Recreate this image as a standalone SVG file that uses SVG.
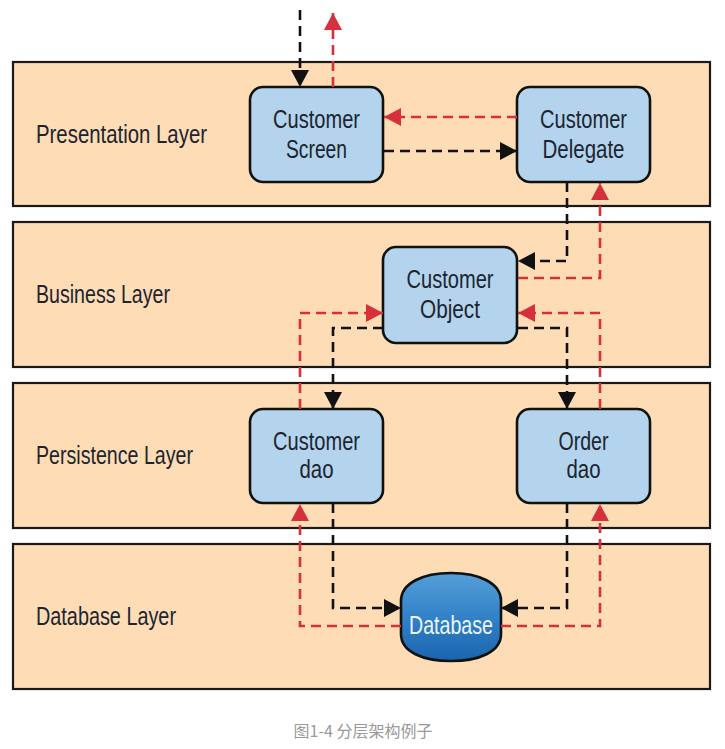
<svg xmlns="http://www.w3.org/2000/svg" width="725" height="749" viewBox="0 0 725 749">
<style>
.layer{fill:#fddcb6;stroke:#1a1a1a;stroke-width:2.2}
.box{fill:#b3d4ec;stroke:#111;stroke-width:2.6}
.lbl{font-family:"Liberation Sans Narrow","Liberation Sans",Arial,sans-serif;font-size:25px;fill:#1c2430}
.nt{font-family:"Liberation Sans Narrow","Liberation Sans",Arial,sans-serif;font-size:25px;fill:#1c2430;text-anchor:middle}
.blk{fill:none;stroke:#111;stroke-width:2.6;stroke-dasharray:10 6}
.red{fill:none;stroke:#d5303b;stroke-width:2.6;stroke-dasharray:10 6}
.cap{font-family:"Noto Sans CJK SC","Noto Sans",sans-serif;font-size:16px;fill:#9a9a9a;text-anchor:middle}
</style>
<defs>
<marker id="ab" markerUnits="userSpaceOnUse" markerWidth="17" markerHeight="18" viewBox="0 0 17 18" refX="17" refY="9" orient="auto"><path d="M0,0 L17,9 L0,18 Z" fill="#111"/></marker>
<marker id="ar" markerUnits="userSpaceOnUse" markerWidth="17" markerHeight="18" viewBox="0 0 17 18" refX="17" refY="9" orient="auto"><path d="M0,0 L17,9 L0,18 Z" fill="#d5303b"/></marker>
<linearGradient id="db" x1="0" y1="0" x2="0" y2="1">
<stop offset="0" stop-color="#559fd8"/>
<stop offset="0.55" stop-color="#2f7fc6"/>
<stop offset="1" stop-color="#1b64ae"/>
</linearGradient>
</defs>
<rect width="725" height="749" fill="#fff"/>
<g id="layer-presentation"><rect class="layer" x="13" y="62" width="697" height="144"/><text class="lbl" x="36" y="143" textLength="171" lengthAdjust="spacingAndGlyphs">Presentation Layer</text></g>
<g id="layer-business"><rect class="layer" x="13" y="222" width="697" height="145"/><text class="lbl" x="36" y="303" textLength="134" lengthAdjust="spacingAndGlyphs">Business Layer</text></g>
<g id="layer-persistence"><rect class="layer" x="13" y="383" width="697" height="145"/><text class="lbl" x="36" y="464" textLength="157" lengthAdjust="spacingAndGlyphs">Persistence Layer</text></g>
<g id="layer-database"><rect class="layer" x="13" y="544" width="697" height="145"/><text class="lbl" x="36" y="625" textLength="140" lengthAdjust="spacingAndGlyphs">Database Layer</text></g>

<g id="customer-screen"><rect class="box" x="250" y="87" width="133" height="95" rx="13"/><text class="nt" x="316.5" y="128" textLength="87" lengthAdjust="spacingAndGlyphs">Customer</text><text class="nt" x="316.5" y="158" textLength="61" lengthAdjust="spacingAndGlyphs">Screen</text></g>
<g id="customer-delegate"><rect class="box" x="517" y="87" width="133" height="95" rx="13"/><text class="nt" x="583.5" y="128" textLength="87" lengthAdjust="spacingAndGlyphs">Customer</text><text class="nt" x="583.5" y="158" textLength="82" lengthAdjust="spacingAndGlyphs">Delegate</text></g>
<g id="customer-object"><rect class="box" x="383" y="247" width="134" height="96" rx="13"/><text class="nt" x="450" y="288" textLength="87" lengthAdjust="spacingAndGlyphs">Customer</text><text class="nt" x="450" y="318" textLength="60" lengthAdjust="spacingAndGlyphs">Object</text></g>
<g id="customer-dao"><rect class="box" x="250" y="409" width="133" height="94" rx="13"/><text class="nt" x="316.5" y="450" textLength="87" lengthAdjust="spacingAndGlyphs">Customer</text><text class="nt" x="316.5" y="478" textLength="34" lengthAdjust="spacingAndGlyphs">dao</text></g>
<g id="order-dao"><rect class="box" x="517" y="409" width="133" height="94" rx="13"/><text class="nt" x="583.5" y="450" textLength="50" lengthAdjust="spacingAndGlyphs">Order</text><text class="nt" x="583.5" y="478" textLength="34" lengthAdjust="spacingAndGlyphs">dao</text></g>
<g id="database"><path d="M401,601 C401,583 423,573 451,573 C479,573 501,583 501,601 L501,634 C501,652 479,661 451,661 C423,661 401,652 401,634 Z" fill="url(#db)" stroke="#111" stroke-width="2.6"/><text x="451" y="634" font-family="'Liberation Sans Narrow','Liberation Sans',Arial,sans-serif" font-size="25" fill="#eef5fc" text-anchor="middle" textLength="84" lengthAdjust="spacingAndGlyphs">Database</text></g>

<g id="connectors">
<path class="blk" d="M300,10 V87" marker-end="url(#ab)"/>
<path class="red" d="M333,87 V13" marker-end="url(#ar)"/>
<path class="red" d="M517,117 H384" marker-end="url(#ar)"/>
<path class="blk" d="M384,151 H517" marker-end="url(#ab)"/>
<path class="blk" d="M567,182 V261 H518" marker-end="url(#ab)"/>
<path class="red" d="M518,278 H600 V183" marker-end="url(#ar)"/>
<path class="red" d="M300,409 V313 H383" marker-end="url(#ar)"/>
<path class="blk" d="M383,328 H333 V409" marker-end="url(#ab)"/>
<path class="red" d="M600,409 V313 H518" marker-end="url(#ar)"/>
<path class="blk" d="M518,328 H567 V409" marker-end="url(#ab)"/>
<path class="blk" d="M333,503 V608 H401" marker-end="url(#ab)"/>
<path class="red" d="M401,626 H300 V504" marker-end="url(#ar)"/>
<path class="blk" d="M567,503 V608 H501" marker-end="url(#ab)"/>
<path class="red" d="M501,626 H600 V504" marker-end="url(#ar)"/>
</g>
<text class="cap" x="363" y="737">图1-4 分层架构例子</text>
</svg>
